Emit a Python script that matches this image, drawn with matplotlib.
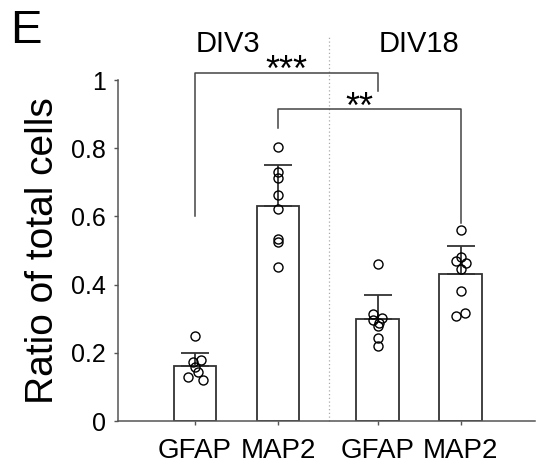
import numpy as np
import matplotlib
matplotlib.use('Agg')
import matplotlib.pyplot as plt

plt.rcParams['font.family'] = ['Liberation Sans', 'DejaVu Sans']

labels = ['GFAP', 'MAP2', 'GFAP', 'MAP2']
means = [0.16, 0.63, 0.30, 0.43]
errs = [0.04, 0.12, 0.07, 0.083]

pts_gfap3 = [0.250, 0.179, 0.172, 0.159, 0.145, 0.128, 0.120]
pts_map2_3 = [0.804, 0.731, 0.712, 0.663, 0.621, 0.533, 0.525, 0.451]
pts_gfap18 = [0.460, 0.313, 0.301, 0.296, 0.288, 0.279, 0.243, 0.220]
pts_map2_18 = [0.560, 0.480, 0.469, 0.462, 0.445, 0.382, 0.316, 0.308]
points = [pts_gfap3, pts_map2_3, pts_gfap18, pts_map2_18]

# small horizontal jitter of the dots, as in the figure
jit_gfap3 = [0, 0.07, -0.03, 0, 0.035, -0.08, 0.1]
jit_map2_3 = [0, 0, 0, 0, 0, 0, 0, 0]
jit_gfap18 = [0, -0.05, 0.05, -0.05, 0.02, 0, 0, 0]
jit_map2_18 = [0, 0, -0.05, 0.06, 0, 0, 0.05, -0.05]
jitter = [jit_gfap3, jit_map2_3, jit_gfap18, jit_map2_18]

xpos = [1, 2, 3.2, 4.2]
dark = '#333333'

fig = plt.figure(figsize=(5.53, 4.65), dpi=100)
ax = fig.add_axes([0.2134, 0.0946, 0.754, 0.7333])

ax.bar(xpos, means, width=0.51, color='white', edgecolor=dark, linewidth=1.3, zorder=2)
ax.errorbar(xpos, means, yerr=[np.zeros(4), errs], fmt='none', ecolor=dark,
            elinewidth=1.3, capsize=10, capthick=1.3, zorder=3)
for x, pts, jit in zip(xpos, points, jitter):
    ax.plot(np.array(jit) + x, pts, 'o', mfc='none', mec='black', ms=6.5, mew=1.0, zorder=4)

# divider between DIV3 and DIV18
ax.plot([2.61, 2.61], [0, 1.125], ls=(0, (1, 2)), color='#aaaaaa', lw=0.9, clip_on=False, zorder=1)

# significance brackets
ax.plot([1, 1, 3.2, 3.2], [0.60, 1.02, 1.02, 0.968], color='#444444', lw=1.1, clip_on=False)
ax.text(2.1, 0.998, '***', ha='center', va='baseline', fontsize=26, clip_on=False)
ax.plot([2, 2, 4.2, 4.2], [0.86, 0.915, 0.915, 0.58], color='#444444', lw=1.1, clip_on=False)
ax.text(2.98, 0.889, '**', ha='center', va='baseline', fontsize=26, clip_on=False)

ax.text(1.4, 1.105, 'DIV3', ha='center', va='center', fontsize=21)
ax.text(3.7, 1.105, 'DIV18', ha='center', va='center', fontsize=21)
fig.text(0.019, 0.933, 'E', fontsize=34, ha='left', va='center')

ax.set_xlim(0.072, 5.096)
ax.set_ylim(0, 1)
ax.set_xticks(xpos)
ax.set_xticklabels(labels, fontsize=20)
ax.set_yticks([0, 0.2, 0.4, 0.6, 0.8, 1])
ax.set_yticklabels(['0', '0.2', '0.4', '0.6', '0.8', '1'], fontsize=18)
ax.tick_params(axis='y', length=3, width=1, color='#555555', pad=6)
ax.tick_params(axis='x', length=3, width=1, color='#555555', pad=9)
ax.set_ylabel('Ratio of total cells', fontsize=28, labelpad=7)

for s in ['top', 'right']:
    ax.spines[s].set_visible(False)
for s in ['left', 'bottom']:
    ax.spines[s].set_color('#555555')
    ax.spines[s].set_linewidth(1.1)

fig.savefig('out.png', dpi=100)
